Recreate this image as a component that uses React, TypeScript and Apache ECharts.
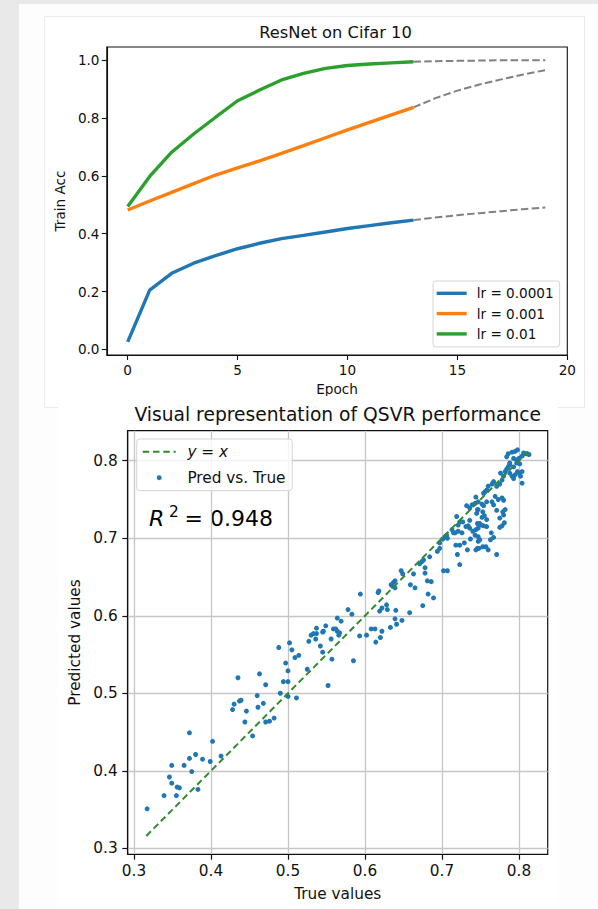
import React, { useEffect, useRef } from "react";
import * as echarts from "echarts";

const FONT = "DejaVu Sans";

// ---------- Top chart: ResNet on Cifar 10 ----------
const epochs = [0, 1, 2, 3, 4, 5, 6, 7, 8, 9, 10, 11, 12, 13];
const extEpochs = [13, 14, 15, 16, 17, 18, 19];
const lrNames = ["lr = 0.0001", "lr = 0.001", "lr = 0.01"];
const lrColors = ["#1f77b4", "#ff7f0e", "#2ca02c"];
const acc0001 = [0.026, 0.205, 0.263, 0.298, 0.324, 0.348, 0.367, 0.383, 0.394, 0.406, 0.418, 0.428, 0.438, 0.447];
const acc001 = [0.482, 0.513, 0.543, 0.573, 0.603, 0.628, 0.652, 0.678, 0.705, 0.732, 0.759, 0.785, 0.811, 0.837];
const acc01 = [0.494, 0.598, 0.682, 0.745, 0.803, 0.86, 0.897, 0.932, 0.955, 0.972, 0.982, 0.987, 0.991, 0.995];
const ext0001 = [0.447, 0.456, 0.464, 0.471, 0.478, 0.485, 0.491];
const ext001 = [0.837, 0.869, 0.895, 0.916, 0.934, 0.951, 0.966];
const ext01 = [0.995, 0.997, 0.998, 0.999, 1.0, 1.0, 1.0];
const topXTicks = [0, 5, 10, 15, 20];
const topYTicks = [0, 0.2, 0.4, 0.6, 0.8, 1.0];

// ---------- Bottom chart: QSVR ----------
const trueVals = [
  0.317, 0.339, 0.355, 0.346, 0.349, 0.356, 0.359, 0.349, 0.365, 0.372,
  0.372, 0.380, 0.375, 0.383, 0.389, 0.399, 0.402, 0.413, 0.428, 0.430,
  0.437, 0.439, 0.435, 0.446, 0.444, 0.454, 0.460, 0.461, 0.468, 0.463,
  0.471, 0.471, 0.476, 0.482, 0.488, 0.490, 0.494, 0.500, 0.497, 0.500,
  0.502, 0.500, 0.511, 0.505, 0.509, 0.514, 0.525, 0.552, 0.527, 0.530,
  0.533, 0.537, 0.537, 0.536, 0.542, 0.545, 0.545, 0.546, 0.549, 0.557,
  0.556, 0.559, 0.562, 0.564, 0.566, 0.567, 0.564, 0.569, 0.578, 0.583,
  0.585, 0.594, 0.593, 0.602, 0.608, 0.613, 0.614, 0.620, 0.622, 0.617,
  0.618, 0.619, 0.622, 0.628, 0.629, 0.633, 0.639, 0.641, 0.640, 0.648,
  0.658, 0.634, 0.637, 0.639, 0.636, 0.639, 0.647, 0.649, 0.663, 0.659,
  0.665, 0.671, 0.678, 0.678, 0.681, 0.686, 0.682, 0.689, 0.675, 0.674,
  0.676, 0.684, 0.694, 0.697, 0.697, 0.701, 0.704, 0.706, 0.707, 0.702,
  0.707, 0.713, 0.715, 0.719, 0.721, 0.723, 0.717, 0.721, 0.726, 0.723,
  0.729, 0.720, 0.723, 0.733, 0.737, 0.734, 0.736, 0.743, 0.747, 0.744,
  0.746, 0.746, 0.747, 0.746, 0.727, 0.731, 0.736, 0.745, 0.740, 0.744,
  0.747, 0.749, 0.751, 0.754, 0.758, 0.752, 0.755, 0.758, 0.763, 0.767,
  0.757, 0.760, 0.771, 0.775, 0.778, 0.775, 0.771, 0.779, 0.782, 0.780,
  0.732, 0.736, 0.739, 0.743, 0.747, 0.752, 0.754, 0.758, 0.767, 0.765,
  0.769, 0.773, 0.778, 0.780, 0.756, 0.754, 0.758, 0.760, 0.765, 0.767,
  0.771, 0.775, 0.778, 0.780, 0.776, 0.782, 0.784, 0.786, 0.788, 0.788,
  0.791, 0.793, 0.795, 0.798, 0.800, 0.802, 0.804, 0.784, 0.786, 0.791,
  0.795, 0.798, 0.793, 0.797, 0.800, 0.804, 0.806, 0.810, 0.813, 0.788,
  0.793, 0.797, 0.801, 0.804, 0.753, 0.747, 0.781, 0.749, 0.764, 0.753,
  0.748, 0.744, 0.718,
];
const predVals = [
  0.351, 0.368, 0.368, 0.392, 0.384, 0.379, 0.378, 0.407, 0.407, 0.449,
  0.416, 0.421, 0.399, 0.376, 0.415, 0.412, 0.438, 0.419, 0.479, 0.486,
  0.490, 0.491, 0.520, 0.477, 0.463, 0.445, 0.497, 0.482, 0.487, 0.525,
  0.511, 0.463, 0.464, 0.468, 0.559, 0.500, 0.515, 0.515, 0.539, 0.529,
  0.565, 0.496, 0.494, 0.556, 0.546, 0.549, 0.531, 0.510, 0.567, 0.575,
  0.577, 0.577, 0.584, 0.570, 0.561, 0.553, 0.579, 0.580, 0.587, 0.544,
  0.570, 0.583, 0.583, 0.580, 0.575, 0.578, 0.597, 0.593, 0.608, 0.602,
  0.542, 0.628, 0.574, 0.575, 0.583, 0.583, 0.566, 0.572, 0.580, 0.630,
  0.632, 0.606, 0.610, 0.614, 0.608, 0.585, 0.596, 0.589, 0.607, 0.594,
  0.604, 0.640, 0.643, 0.645, 0.638, 0.636, 0.658, 0.654, 0.654, 0.640,
  0.636, 0.667, 0.662, 0.655, 0.645, 0.644, 0.628, 0.623, 0.613, 0.670,
  0.672, 0.676, 0.683, 0.687, 0.694, 0.699, 0.702, 0.704, 0.700, 0.658,
  0.658, 0.711, 0.707, 0.728, 0.717, 0.721, 0.707, 0.709, 0.707, 0.691,
  0.694, 0.679, 0.666, 0.685, 0.699, 0.716, 0.713, 0.704, 0.702, 0.753,
  0.737, 0.719, 0.696, 0.687, 0.721, 0.715, 0.723, 0.732, 0.709, 0.711,
  0.713, 0.719, 0.717, 0.716, 0.715, 0.727, 0.729, 0.724, 0.698, 0.701,
  0.689, 0.685, 0.679, 0.714, 0.716, 0.726, 0.736, 0.734, 0.737, 0.730,
  0.742, 0.739, 0.743, 0.745, 0.747, 0.744, 0.742, 0.747, 0.743, 0.747,
  0.754, 0.750, 0.752, 0.749, 0.760, 0.758, 0.762, 0.767, 0.770, 0.773,
  0.767, 0.770, 0.775, 0.780, 0.784, 0.786, 0.789, 0.792, 0.797, 0.784,
  0.780, 0.777, 0.782, 0.786, 0.784, 0.780, 0.786, 0.805, 0.809, 0.811,
  0.812, 0.814, 0.803, 0.801, 0.803, 0.806, 0.810, 0.809, 0.808, 0.795,
  0.792, 0.797, 0.796, 0.771, 0.734, 0.737, 0.720, 0.698, 0.707, 0.689,
  0.687, 0.685, 0.691,
];
const identityEnds = [0.316, 0.812];
const botTicks = [0.3, 0.4, 0.5, 0.6, 0.7, 0.8];
const r2Value = "0.948";

const TXT = "#111";

function buildTop(): any {
  const solid = [acc0001, acc001, acc01];
  const ext = [ext0001, ext001, ext01];
  const axisLineStyle = { color: TXT, width: 1.1 };
  return {
    animation: false,
    backgroundColor: "transparent",
    textStyle: { fontFamily: FONT },
    title: {
      text: "ResNet on Cifar 10",
      left: 290.5,
      top: 7,
      textAlign: "center",
      padding: 0,
      textStyle: { fontFamily: FONT, fontSize: 16.3, fontWeight: "normal", color: TXT },
    },
    grid: { left: 59.3, top: 30, width: 463, height: 308, show: true, borderColor: TXT, borderWidth: 1.1, backgroundColor: "transparent" },
    legend: {
      data: lrNames,
      orient: "vertical",
      left: 388,
      top: 264,
      icon: "rect",
      itemWidth: 30,
      itemHeight: 3.4,
      itemGap: 6.3,
      padding: [5.3, 6, 6, 3.7],
      backgroundColor: "#fff",
      borderColor: "#d4d4d4",
      borderWidth: 1,
      borderRadius: 3,
      textStyle: { fontFamily: FONT, fontSize: 13.6, color: TXT, lineHeight: 14, padding: [0, 0, 0, 5] },
    },
    xAxis: {
      type: "value",
      min: -0.95,
      max: 20,
      name: "Epoch",
      nameLocation: "middle",
      nameGap: 26.7,
      nameTextStyle: { fontFamily: FONT, fontSize: 13.6, color: TXT },
      axisLine: { show: true, onZero: false, lineStyle: axisLineStyle },
      axisTick: { show: true, length: 5, customValues: topXTicks, lineStyle: axisLineStyle },
      axisLabel: { customValues: topXTicks, margin: 8.4, fontFamily: FONT, fontSize: 13.6, color: TXT, formatter: (v: number) => String(v) },
      splitLine: { show: false },
    },
    yAxis: {
      type: "value",
      min: -0.0197,
      max: 1.046,
      name: "Train Acc",
      nameLocation: "middle",
      nameRotate: 90,
      nameGap: 35.6,
      nameTextStyle: { fontFamily: FONT, fontSize: 13.6, color: TXT },
      axisLine: { show: true, onZero: false, lineStyle: axisLineStyle },
      axisTick: { show: true, length: 5, customValues: topYTicks, lineStyle: axisLineStyle },
      axisLabel: { customValues: topYTicks, margin: 7.3, fontFamily: FONT, fontSize: 13.6, color: TXT, formatter: (v: number) => v.toFixed(1) },
      splitLine: { show: false },
    },
    series: [
      ...ext.map((vals, k) => ({
        type: "line",
        name: "extrapolation " + k,
        data: extEpochs.map((e, i) => [e, vals[i]]),
        symbol: "none",
        lineStyle: { color: "#808080", width: 2, type: [7.5, 3.3] },
        itemStyle: { color: "#808080" },
        z: 2,
      })),
      ...solid.map((vals, k) => ({
        type: "line",
        name: lrNames[k],
        data: epochs.map((e, i) => [e, vals[i]]),
        symbol: "none",
        lineStyle: { color: lrColors[k], width: 3.4 },
        itemStyle: { color: lrColors[k] },
        z: 3,
      })),
    ],
  };
}

function buildBottom(): any {
  const axisLineStyle = { color: TXT, width: 1.2 };
  const gridLine = { show: true, lineStyle: { color: "#c6c6c6", width: 1.3 } };
  const green = "#338a2e";
  return {
    animation: false,
    backgroundColor: "transparent",
    textStyle: { fontFamily: FONT },
    title: {
      text: "Visual representation of QSVR performance",
      left: 279.7,
      top: 9,
      textAlign: "center",
      padding: 0,
      textStyle: { fontFamily: FONT, fontSize: 18.7, fontWeight: "normal", color: TXT },
    },
    grid: { left: 69.7, top: 34.7, width: 420, height: 423.6, show: true, borderColor: TXT, borderWidth: 1.2, backgroundColor: "transparent" },
    legend: {
      data: [{ name: "y = x" }, { name: "Pred vs. True", icon: "circle" }],
      orient: "vertical",
      left: 78.7,
      top: 43,
      itemWidth: 33,
      itemHeight: 5,
      itemGap: 10,
      padding: [4.7, 6.7, 5, 5],
      backgroundColor: "rgba(255,255,255,0.8)",
      borderColor: "#d4d4d4",
      borderWidth: 1,
      borderRadius: 3,
      formatter: (name: string) => (name === "y = x" ? "{i|y} = {i|x}" : name),
      textStyle: {
        fontFamily: FONT,
        fontSize: 15.3,
        color: TXT,
        lineHeight: 16,
        padding: [0, 0, 0, 6.7],
        rich: { i: { fontFamily: FONT, fontStyle: "italic", fontSize: 15.3, color: TXT, lineHeight: 16 } },
      },
    },
    xAxis: {
      type: "value",
      min: 0.2918,
      max: 0.8373,
      name: "True values",
      nameLocation: "middle",
      nameGap: 32.2,
      nameTextStyle: { fontFamily: FONT, fontSize: 15.3, color: TXT },
      axisLine: { show: true, onZero: false, lineStyle: axisLineStyle },
      axisTick: { show: true, length: 5.4, customValues: botTicks, lineStyle: axisLineStyle },
      axisLabel: { customValues: botTicks, margin: 9.6, fontFamily: FONT, fontSize: 15.3, color: TXT, formatter: (v: number) => v.toFixed(1) },
      splitLine: gridLine,
    },
    yAxis: {
      type: "value",
      min: 0.2923,
      max: 0.8387,
      name: "Predicted values",
      nameLocation: "middle",
      nameRotate: 90,
      nameGap: 41.4,
      nameTextStyle: { fontFamily: FONT, fontSize: 15.3, color: TXT },
      axisLine: { show: true, onZero: false, lineStyle: axisLineStyle },
      axisTick: { show: true, length: 5.4, customValues: botTicks, lineStyle: axisLineStyle },
      axisLabel: { customValues: botTicks, margin: 10, fontFamily: FONT, fontSize: 15.3, color: TXT, formatter: (v: number) => v.toFixed(1) },
      splitLine: gridLine,
    },
    graphic: [
      { type: "text", left: undefined, x: 91, y: 122.4, style: { text: "R", fontFamily: FONT, fontStyle: "italic", fontSize: 22, fill: "#000", verticalAlign: "middle" } },
      { type: "text", x: 111, y: 115.5, style: { text: "2", fontFamily: FONT, fontSize: 15.4, fill: "#000", verticalAlign: "middle" } },
      { type: "text", x: 126.5, y: 122.4, style: { text: "= " + r2Value, fontFamily: FONT, fontSize: 22, fill: "#000", verticalAlign: "middle" } },
    ],
    series: [
      {
        type: "scatter",
        name: "Pred vs. True",
        data: trueVals.map((t, i) => [t, predVals[i]]),
        symbol: "circle",
        symbolSize: 5,
        itemStyle: { color: "#1f77b4", opacity: 1 },
        z: 2,
      },
      {
        type: "line",
        name: "y = x",
        data: identityEnds.map((v) => [v, v]),
        symbol: "none",
        lineStyle: { color: green, width: 2, type: [6.5, 3.8] },
        itemStyle: { color: "rgba(0,0,0,0)" },
        z: 3,
      },
    ],
  };
}

export default function App() {
  const topRef = useRef<HTMLDivElement>(null);
  const botRef = useRef<HTMLDivElement>(null);
  useEffect(() => {
    document.body.style.margin = "0";
    const top = echarts.init(topRef.current!, null, { renderer: "svg" });
    top.setOption(buildTop());
    const bot = echarts.init(botRef.current!, null, { renderer: "svg" });
    bot.setOption(buildBottom());
    return () => {
      top.dispose();
      bot.dispose();
    };
  }, []);
  return (
    <div style={{ position: "absolute", left: 0, top: 0, width: 598, height: 909, background: "#e9e9e9", overflow: "hidden" }}>
      <div style={{ position: "absolute", left: 19, top: 4, width: 579, height: 905, background: "#fdfdfd" }} />
      <div style={{ position: "absolute", left: 44, top: 16, width: 541, height: 392, border: "1px solid #ebebeb", boxSizing: "border-box", background: "#fff" }} />
      <div ref={topRef} style={{ position: "absolute", left: 45, top: 17, width: 538, height: 389 }} />
      <div ref={botRef} style={{ position: "absolute", left: 58, top: 396, width: 500, height: 513, background: "#fff" }} />
    </div>
  );
}
